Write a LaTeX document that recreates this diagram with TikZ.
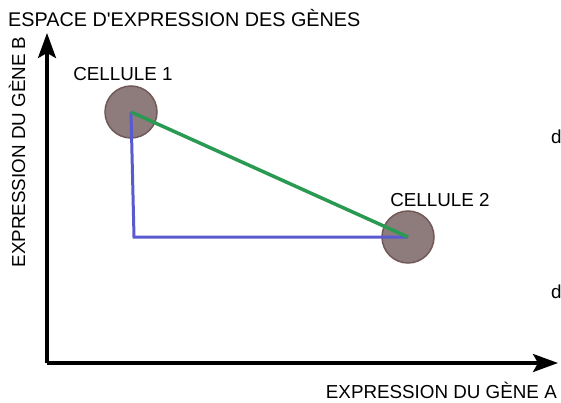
\documentclass[tikz,border=0pt]{standalone}
\usepackage{fontspec}
\setmainfont{Liberation Sans}
\usepackage{tikz}
\usetikzlibrary{positioning,arrows.meta}
\usepackage{xcolor}
\definecolor{cellfill}{HTML}{8E7B7B}
\definecolor{celledge}{HTML}{725858}
\definecolor{distgreen}{HTML}{2A9A52}
\definecolor{distblue}{HTML}{5A5AD0}

\begin{document}
\begin{tikzpicture}[x=1pt,y=-1pt,>={Stealth[length=25pt,width=18pt,inset=5pt]},
  font=\fontsize{18.8}{22}\selectfont,
  cell/.style={circle,draw=celledge,fill=cellfill,line width=1.5pt,minimum size=52pt,inner sep=0pt},
  axis/.style={->,line width=3.3pt},
  lbl/.style={inner sep=0pt}]
\useasboundingbox (0,0) rectangle (561,403);
% axes
\coordinate (O) at (47,363);
\coordinate (ytip) at (47,33);
\coordinate (xtip) at (558,363);
\draw[axis] (O) -- (ytip);
\draw[axis] (O) -- (xtip);
\node[lbl,anchor=west,font=\fontsize{19.8}{22}\selectfont] (title) at (8,18) {ESPACE D\textquotesingle EXPRESSION DES GÈNES};
\node[lbl,rotate=90] (ylab) at (17,152) {EXPRESSION DU GÈNE B};
\node[lbl,anchor=east] (xlab) at (557,390) {EXPRESSION DU GÈNE A};
% cells
\node[cell] (c1) at (131,112) {};
\node[cell] (c2) at (408,237) {};
\node[lbl] (l1) at (123,74) {CELLULE 1};
\node[lbl] (l2) at (440,200) {CELLULE 2};
\coordinate (corner) at (134,237);
% distances
\draw[distblue,line width=3pt] (c1.center) -- (corner) -- (c2.center);
\draw[distgreen,line width=3.5pt] (c1.center) -- (c2.center);
\node[lbl,anchor=west] (d1) at (551,137) {d};
\node[lbl,anchor=west] (d2) at (551,292) {d};
\end{tikzpicture}
\end{document}
